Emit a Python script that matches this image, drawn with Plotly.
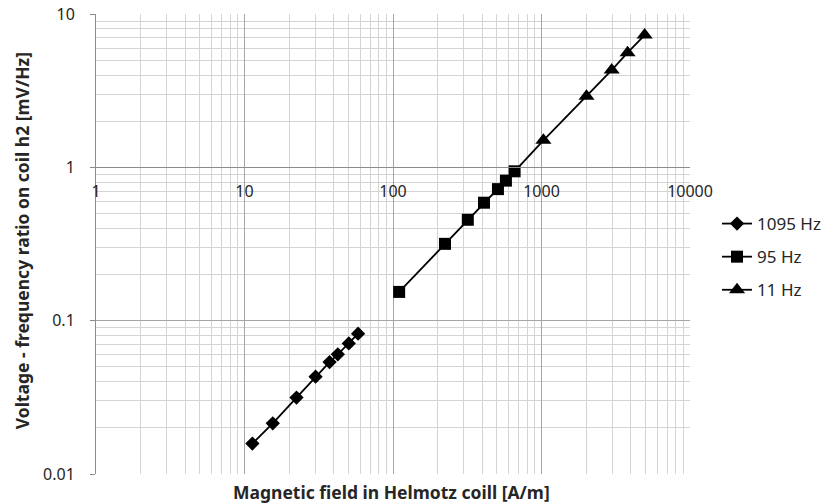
import plotly.graph_objects as go

# Measured field strength [A/m] and voltage/frequency ratio [mV/Hz] per excitation frequency
h_1095 = [11.3, 15.5, 22.4, 30.1, 37.4, 42.5, 50.4, 58.2]
v_1095 = [0.0158, 0.0214, 0.0315, 0.0431, 0.0537, 0.0603, 0.0711, 0.0822]

h_95 = [110, 224, 319, 410, 509, 576, 659]
v_95 = [0.154, 0.317, 0.455, 0.588, 0.721, 0.819, 0.942]

# first 11 Hz reading coincides with the last 95 Hz one (its marker is hidden)
h_11 = [659, 1030, 2010, 2970, 3800, 4950]
v_11 = [0.942, 1.50, 2.91, 4.31, 5.59, 7.29]

series_names = ["1095 Hz", "95 Hz", "11 Hz"]
x_tick_vals = [1, 10, 100, 1000, 10000]
x_tick_text = ["1", "10", "100", "1000", "10000"]
y_tick_vals = [0.01, 0.1, 1, 10]
y_tick_text = ["0.01", "0.1", "1", "10"]

FONT = "Noto Sans"
TEXT = "#262626"
LINE = dict(color="black", width=1.8)

fig = go.Figure()

# 11 Hz: connecting segment from the shared first reading (no marker), drawn underneath
fig.add_trace(go.Scatter(
    x=h_11[:2], y=v_11[:2], mode="lines", line=LINE,
    legendgroup="11 Hz", showlegend=False, hoverinfo="skip",
))

series = [
    ("1095 Hz", h_1095, v_1095, "diamond", 11),
    ("95 Hz", h_95, v_95, "square", 12),
    ("11 Hz", h_11[1:], v_11[1:], "triangle-up", 14),
]
for name, xs, ys, sym, size in series:
    fig.add_trace(go.Scatter(
        x=xs, y=ys, name=name, mode="lines+markers",
        legendgroup=name,
        line=LINE,
        marker=dict(symbol=sym, size=size, color="black"),
    ))

# Horizontal axis crosses the vertical one at y = 1 (log10 range -2..1 -> 2/3 up)
fig.update_xaxes(
    type="log", range=[0, 4],
    anchor="free", position=2 / 3,
    tickvals=x_tick_vals, ticktext=x_tick_text,
    ticks="", ticklabelstandoff=9,
    showline=True, linecolor="#8c8c8c", linewidth=1,
    showgrid=True, gridcolor="#a6a6a6", gridwidth=1,
    minor=dict(dtick="D1", showgrid=True, gridcolor="#d4d4d4", gridwidth=1),
    tickfont=dict(family=FONT, size=16, color=TEXT),
    zeroline=False, automargin=False,
)
fig.update_yaxes(
    type="log", range=[-2, 1],
    tickvals=y_tick_vals, ticktext=y_tick_text,
    ticks="outside", ticklen=5, tickcolor="#8c8c8c", ticklabelstandoff=12,
    showline=True, linecolor="#8c8c8c", linewidth=1,
    showgrid=True, gridcolor="#a6a6a6", gridwidth=1,
    minor=dict(dtick="D1", showgrid=True, gridcolor="#d4d4d4", gridwidth=1),
    tickfont=dict(family=FONT, size=16, color=TEXT),
    zeroline=False, automargin=False,
)

fig.add_annotation(
    text="<b>Magnetic field in Helmotz coill [A/m]</b>",
    xref="paper", yref="paper", x=0.498, y=-0.039,
    xanchor="center", yanchor="middle", showarrow=False,
    font=dict(family=FONT, size=17.5, color=TEXT),
)
fig.add_annotation(
    text="<b>Voltage - frequency ratio on coil h2 [mV/Hz]</b>",
    xref="paper", yref="paper", x=-0.1246, y=0.508, textangle=-90,
    xanchor="center", yanchor="middle", showarrow=False,
    font=dict(family=FONT, size=17.5, color=TEXT),
)

fig.update_layout(
    width=827, height=503,
    margin=dict(l=96, r=137, t=14, b=29, autoexpand=False),
    plot_bgcolor="white", paper_bgcolor="white",
    showlegend=True,
    legend=dict(
        x=1.0455, y=0.4717, xanchor="left", yanchor="middle",
        font=dict(family=FONT, size=17, color=TEXT),
        tracegroupgap=8, bgcolor="rgba(0,0,0,0)",
    ),
)

fig.write_html("out.html")
